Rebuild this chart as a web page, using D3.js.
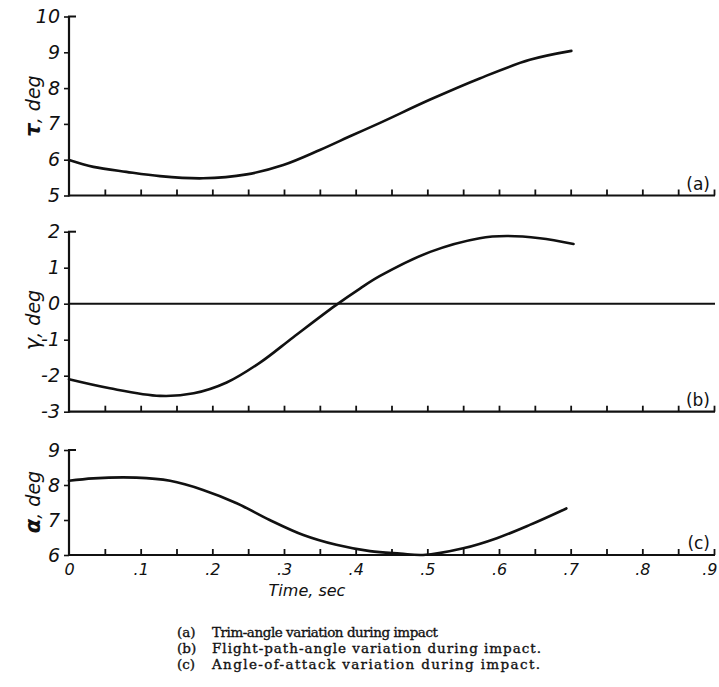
<!DOCTYPE html>
<html>
<head>
<meta charset="utf-8">
<script src="https://cdn.jsdelivr.net/npm/d3@7"></script>
<style>
  html, body { margin: 0; padding: 0; background: #fff; }
  svg { display: block; }
  .tick text { font-family: "DejaVu Sans", sans-serif; font-style: oblique; fill: #111; }
</style>
</head>
<body>
<svg id="chart" width="719" height="687"></svg>
<script>
// Time histories during impact
const timeTicks = [0, 0.1, 0.2, 0.3, 0.4, 0.5, 0.6, 0.7, 0.8, 0.9];
const timeTickLabels = ["0", ".1", ".2", ".3", ".4", ".5", ".6", ".7", ".8", ".9"];

// (a) trim angle, deg
const trimTime  = [0, 0.034, 0.08, 0.127, 0.187, 0.248, 0.299, 0.35, 0.396, 0.434, 0.504, 0.573, 0.643, 0.701];
const trimAngle = [5.99, 5.80, 5.66, 5.54, 5.48, 5.59, 5.85, 6.27, 6.69, 7.03, 7.68, 8.27, 8.79, 9.04];
const trimTicks = [5, 6, 7, 8, 9, 10];

// (b) flight-path angle, deg
const pathTime  = [0, 0.057, 0.127, 0.174, 0.22, 0.267, 0.313, 0.371, 0.406, 0.434, 0.504, 0.573, 0.611, 0.657, 0.704];
const pathAngle = [-2.10, -2.35, -2.56, -2.49, -2.19, -1.63, -0.93, -0.06, 0.42, 0.77, 1.44, 1.82, 1.88, 1.82, 1.66];
const pathTicks = [-3, -2, -1, 0, 1, 2];
const pathTickLabels = ["-3", "-2", "-1", "0", "1", "2"];

// (c) angle of attack, deg
const attackTime  = [0, 0.034, 0.094, 0.141, 0.187, 0.234, 0.28, 0.327, 0.373, 0.42, 0.462, 0.494, 0.55, 0.597, 0.643, 0.694];
const attackAngle = [8.12, 8.19, 8.21, 8.12, 7.86, 7.48, 7.0, 6.57, 6.29, 6.11, 6.04, 6.0, 6.19, 6.48, 6.86, 7.33];
const attackTicks = [6, 7, 8, 9];

const captions = [
  ["(a)", "Trim-angle variation during impact"],
  ["(b)", "Flight-path-angle variation during impact."],
  ["(c)", "Angle-of-attack variation during impact."]
];

const svg = d3.select("#chart");
const x = d3.scaleLinear().domain([0, 0.9]).range([69, 714]);

const panels = [
  { t: trimTime, v: trimAngle, domain: [5, 10], range: [195.5, 16.5], ticks: trimTicks,
    labels: trimTicks.map(String), sym: "τ", symBold: true, tag: "(a)", titleY: 106 },
  { t: pathTime, v: pathAngle, domain: [-3, 2], range: [411.7, 231.7], ticks: pathTicks,
    labels: pathTickLabels, sym: "γ", symBold: false, tag: "(b)", titleY: 320, zero: true },
  { t: attackTime, v: attackAngle, domain: [6, 9], range: [555, 450], ticks: attackTicks,
    labels: attackTicks.map(String), sym: "α", symBold: true, tag: "(c)", titleY: 502, bottom: true }
];

const minorTicks = d3.range(1, 19).map(i => i * 0.05);

panels.forEach(p => {
  const y = d3.scaleLinear().domain(p.domain).range(p.range);
  const g = svg.append("g");
  const yBottom = p.range[0], yTop = p.range[1];

  // x axis with inward ticks every 0.05 s
  const xa = g.append("g").attr("transform", `translate(0,${yBottom})`)
    .call(d3.axisBottom(x).tickValues(minorTicks).tickSizeInner(-6).tickSizeOuter(0).tickFormat(""));
  xa.select(".domain").attr("stroke", "#111").attr("stroke-width", 2.2)
    .attr("d", `M${x(0)},0H${x(0.9) + 1}`);
  xa.selectAll(".tick line").attr("stroke", "#111").attr("stroke-width", 1.8);

  if (p.bottom) {
    const xl = g.append("g").attr("transform", `translate(0,${yBottom})`)
      .call(d3.axisBottom(x).tickValues(timeTicks).tickSize(0).tickPadding(8)
        .tickFormat((d, i) => timeTickLabels[i]));
    xl.select(".domain").remove();
    xl.selectAll("text").attr("font-size", 16).attr("dy", "0.75em");
    // keep the last label inside the frame
    xl.selectAll("text").filter(d => d === 0.9).attr("text-anchor", "end").attr("x", 3);
  }

  // y axis with outward ticks
  const ya = g.append("g").attr("transform", `translate(${x(0)},0)`)
    .call(d3.axisLeft(y).tickValues(p.ticks).tickSizeInner(5).tickSizeOuter(0).tickPadding(4)
      .tickFormat((d, i) => p.labels[i]));
  ya.select(".domain").attr("stroke", "#111").attr("stroke-width", 2.2)
    .attr("d", `M0,${yBottom + 1}V${yTop}`);
  ya.selectAll(".tick line").attr("stroke", "#111").attr("stroke-width", 1.6);
  ya.selectAll(".tick text").attr("font-size", 19);
  // cap at the top of the axis
  g.append("line").attr("x1", x(0) - 1).attr("x2", x(0) + 7).attr("y1", yTop).attr("y2", yTop)
    .attr("stroke", "#111").attr("stroke-width", 2);

  if (p.zero) {
    g.append("line").attr("x1", x(0)).attr("x2", x(0.9) + 1).attr("y1", y(0)).attr("y2", y(0))
      .attr("stroke", "#111").attr("stroke-width", 2);
  }

  // curve
  const pts = p.t.map((t, i) => [t, p.v[i]]);
  g.append("path").datum(pts)
    .attr("fill", "none").attr("stroke", "#111").attr("stroke-width", 2.6)
    .attr("stroke-linecap", "round")
    .attr("d", d3.line().x(d => x(d[0])).y(d => y(d[1])).curve(d3.curveCatmullRom.alpha(0.5)));

  // axis title, rotated
  const title = g.append("text")
    .attr("transform", `translate(40,${p.titleY}) rotate(-90)`)
    .attr("text-anchor", "middle")
    .attr("font-family", "DejaVu Sans, sans-serif").attr("font-style", "oblique")
    .attr("font-size", 19).attr("fill", "#111");
  title.append("tspan").attr("font-weight", p.symBold ? "bold" : "normal").attr("font-size", 21).text(p.sym);
  title.append("tspan").text(", deg");

  // panel tag
  g.append("text").attr("x", x(0.9) - 4).attr("y", yBottom - 6)
    .attr("text-anchor", "end")
    .attr("font-family", "DejaVu Sans, sans-serif").attr("font-size", 17).attr("fill", "#111")
    .text(p.tag);
});

// x axis title
svg.append("text").attr("x", 307).attr("y", 596).attr("text-anchor", "middle")
  .attr("font-family", "DejaVu Sans, sans-serif").attr("font-style", "oblique")
  .attr("font-size", 16).attr("fill", "#111").text("Time, sec");

// figure captions
const capWidths = [226, 329, 328];
captions.forEach((c, i) => {
  const yy = 637 + i * 16;
  svg.append("text").attr("x", 177).attr("y", yy)
    .attr("font-family", "DejaVu Serif, serif").attr("font-size", 13.5)
    .attr("fill", "#111").attr("stroke", "#111").attr("stroke-width", 0.35)
    .text(c[0]);
  svg.append("text").attr("x", 212).attr("y", yy)
    .attr("font-family", "DejaVu Serif, serif").attr("font-size", 13.5)
    .attr("fill", "#111").attr("stroke", "#111").attr("stroke-width", 0.35)
    .attr("textLength", capWidths[i]).attr("lengthAdjust", "spacing")
    .text(c[1]);
});
</script>
</body>
</html>
